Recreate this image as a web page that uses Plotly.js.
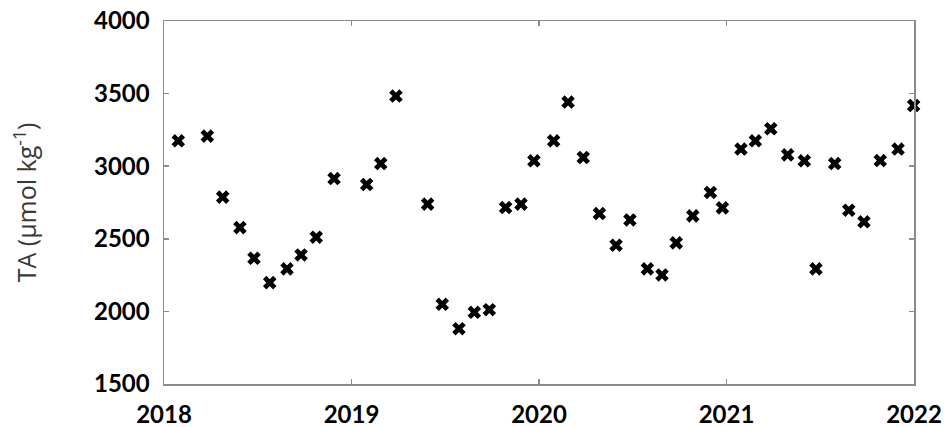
<!DOCTYPE html>
<html>
<head>
<meta charset="utf-8">
<script src="https://cdn.plot.ly/plotly-3.0.1.min.js"></script>
<style>
  html, body { margin: 0; padding: 0; background: #ffffff; }
  #chart { width: 946px; height: 427px; }
</style>
</head>
<body>
<div id="chart"></div>
<script>
// Sampling dates as decimal years
const sampleTime = [
  2018.076, 2018.231, 2018.313, 2018.405, 2018.480, 2018.564, 2018.656, 2018.731, 2018.812, 2018.907,
  2019.081, 2019.156, 2019.237, 2019.406, 2019.484, 2019.573, 2019.655, 2019.735, 2019.822, 2019.904,
  2019.973, 2020.078, 2020.155, 2020.236, 2020.322, 2020.411, 2020.485, 2020.578, 2020.656, 2020.732,
  2020.820, 2020.914, 2020.978, 2021.077, 2021.154, 2021.236, 2021.326, 2021.415, 2021.477, 2021.577,
  2021.652, 2021.733, 2021.820, 2021.915, 2021.998
];

// Total alkalinity (µmol kg-1)
const totalAlkalinity = [
  3175, 3207, 2787, 2577, 2366, 2198, 2293, 2389, 2511, 2915,
  2874, 3018, 3483, 2739, 2049, 1881, 1994, 2012, 2715, 2739,
  3037, 3175, 3442, 3060, 2674, 2456, 2630, 2293, 2251, 2472,
  2658, 2819, 2713, 3118, 3175, 3258, 3078, 3037, 2293, 3018,
  2697, 2617, 3039, 3118, 3418
];

const yearTicks = [2018, 2019, 2020, 2021, 2022];
const yearLabels = ['2018', '2019', '2020', '2021', '2022'];
const taTicks = [1500, 2000, 2500, 3000, 3500, 4000];

const axisColor = '#8c8c8c';
const tickFont = { family: 'Lato, "Open Sans", sans-serif', size: 24, color: '#000000', weight: 'bold' };

const trace = {
  x: sampleTime,
  y: totalAlkalinity,
  type: 'scatter',
  mode: 'markers',
  cliponaxis: false,
  marker: { symbol: 'x', size: 12, color: '#000000', line: { width: 0 } },
  hoverinfo: 'x+y'
};

const layout = {
  width: 946,
  height: 427,
  margin: { l: 164, r: 32, t: 21, b: 43 },
  paper_bgcolor: '#ffffff',
  plot_bgcolor: '#ffffff',
  showlegend: false,
  xaxis: {
    range: [2018, 2022],
    tickvals: yearTicks,
    ticktext: yearLabels,
    ticks: 'inside',
    ticklen: 5,
    tickwidth: 1.5,
    tickcolor: axisColor,
    showline: true,
    linecolor: axisColor,
    linewidth: 1.5,
    mirror: 'ticks',
    showgrid: false,
    zeroline: false,
    tickfont: tickFont,
    ticklabelstandoff: 9
  },
  yaxis: {
    range: [1500, 4000],
    tickvals: taTicks,
    ticks: 'inside',
    ticklen: 5,
    tickwidth: 1.5,
    tickcolor: axisColor,
    showline: true,
    linecolor: axisColor,
    linewidth: 1.5,
    mirror: 'ticks',
    showgrid: false,
    zeroline: false,
    tickfont: tickFont,
    ticklabelstandoff: 8,
    title: {
      text: 'TA (µmol kg<sup>-1</sup>)',
      font: { family: '"Open Sans", sans-serif', size: 25, color: '#3a3a3a' },
      standoff: 50
    }
  }
};

Plotly.newPlot('chart', [trace], layout, { staticPlot: true, displayModeBar: false });
</script>
</body>
</html>
